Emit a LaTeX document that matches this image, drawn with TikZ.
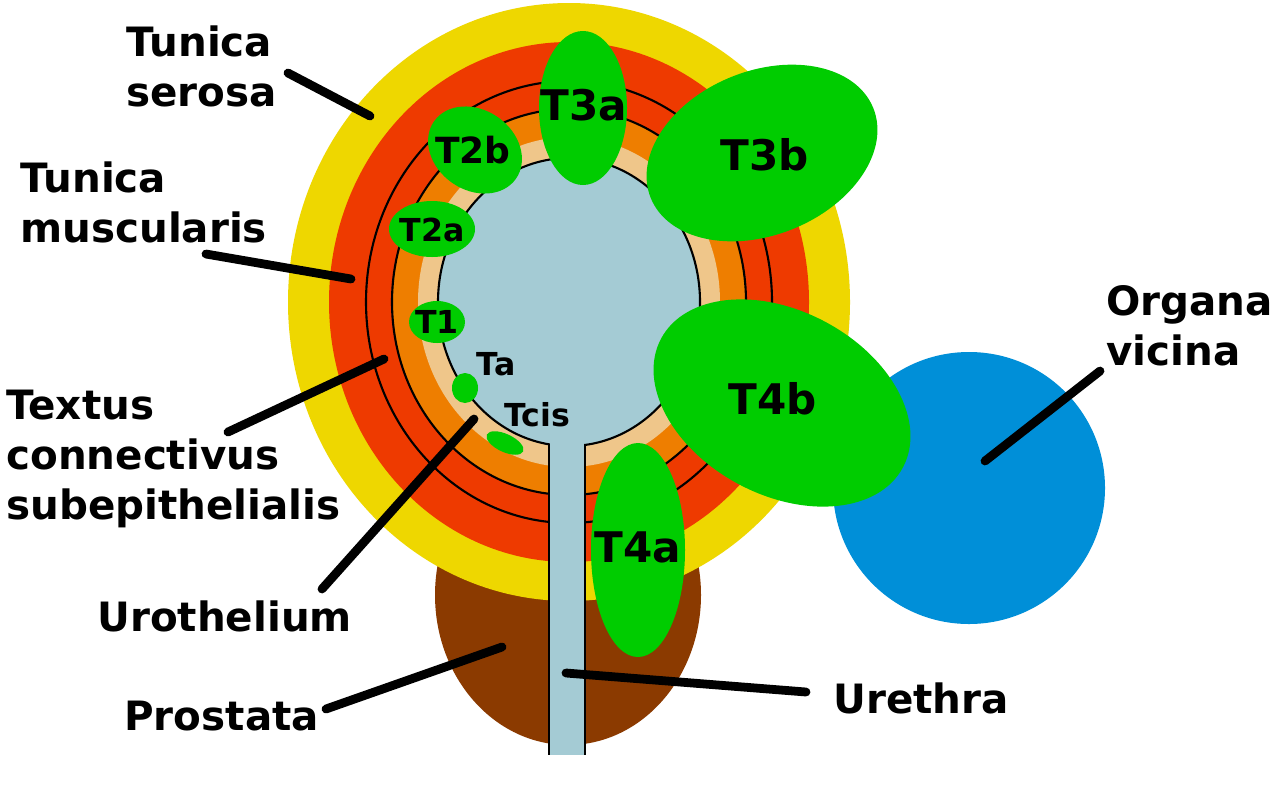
\documentclass[tikz,border=0pt]{standalone}
\usepackage{fontspec}
\setmainfont{DejaVu Sans}
\begin{document}
\begin{tikzpicture}[x=0.02cm,y=-0.02cm,
  lbl/.style={font=\bfseries\fontsize{23}{28.5}\selectfont,anchor=west,align=left,inner sep=0},
  tum/.style={font=\bfseries\fontsize{#1}{#1}\selectfont,inner sep=0},
  lead/.style={line width=5pt,line cap=round},
  ring/.style={line width=1.2pt}]
\definecolor{yel}{HTML}{EED700}
\definecolor{red1}{HTML}{EE3A00}
\definecolor{ora}{HTML}{EE7E00}
\definecolor{bei}{HTML}{EFC68A}
\definecolor{lbl1}{HTML}{A4CBD4}
\definecolor{brn}{HTML}{8B3A00}
\definecolor{grn}{HTML}{00CC00}
\definecolor{blu}{HTML}{008FD8}
\useasboundingbox (0,0) rectangle (1280,795);
\fill[white] (0,0) rectangle (1280,795);
\coordinate (c) at (569,302);
\fill[brn] (568,595) ellipse [x radius=133,y radius=150];
\fill[yel] (c) ellipse [x radius=281,y radius=299];
\fill[red1] (c) ellipse [x radius=240,y radius=260];
\draw[ring] (c) ellipse [x radius=203,y radius=221];
\draw[ring,fill=ora] (c) ellipse [x radius=177,y radius=193];
\fill[bei] (c) ellipse [x radius=151,y radius=165];
\draw[ring,fill=lbl1] (c) ellipse [x radius=131,y radius=144];
\fill[lbl1] (550,430) rectangle (584,755);
\draw[ring] (549,444) -- (549,755) (585,444) -- (585,755);
\fill[blu] (969,488) circle [radius=136];
% tumours
\fill[grn] (583,108) ellipse [x radius=44,y radius=77];
\fill[grn,rotate around={-35:(475,150)}] (475,150) ellipse [x radius=50,y radius=40];
\fill[grn,rotate around={22:(762,153)}] (762,153) ellipse [x radius=120,y radius=82];
\fill[grn] (432,229) ellipse [x radius=43,y radius=28];
\fill[grn] (437,322) ellipse [x radius=28,y radius=21];
\fill[grn] (465,388) ellipse [x radius=13,y radius=15];
\fill[grn,rotate around={-25:(505,443)}] (505,443) ellipse [x radius=20,y radius=9];
\fill[grn,rotate around={-28:(782,403)}] (782,403) ellipse [x radius=137,y radius=92];
\fill[grn] (638,550) ellipse [x radius=47,y radius=107];
\node[tum=24] (t3a) at (584,105) {T3a};
\node[tum=20.5] (t2b) at (473,150) {T2b};
\node[tum=24] (t3b) at (765,155) {T3b};
\node[tum=18] (t2a) at (432,230) {T2a};
\node[tum=18] (t1) at (437,322) {T1};
\node[tum=18] (ta) at (496,364) {Ta};
\node[tum=18] (tcis) at (537,415) {Tcis};
\node[tum=24] (t4b) at (773,399) {T4b};
\node[tum=24] (t4a) at (638,547) {T4a};
% labels
\node[lbl] (ser) at (126,66) {Tunica\\serosa};
\node[lbl] (mus) at (20,202) {Tunica\\muscularis};
\node[lbl] (tex) at (6,459) {Textus\\connectivus\\subepithelialis};
\node[lbl] (uro) at (97,616) {Urothelium};
\node[lbl] (pro) at (124,716) {Prostata};
\node[lbl] (ure) at (833,698) {Urethra};
\node[lbl] (org) at (1106,326) {Organa\\vicina};
\coordinate (a1) at (288,73); \coordinate (b1) at (370,116);
\coordinate (a2) at (206,254); \coordinate (b2) at (351,279);
\coordinate (a3) at (228,432); \coordinate (b3) at (384,359);
\coordinate (a4) at (322,589); \coordinate (b4) at (474,419);
\coordinate (a5) at (326,709); \coordinate (b5) at (502,647);
\coordinate (a6) at (806,692); \coordinate (b6) at (566,673);
\coordinate (a7) at (1100,371); \coordinate (b7) at (985,461);
\foreach \i in {1,...,7} \draw[lead] (a\i) -- (b\i);
\end{tikzpicture}
\end{document}
